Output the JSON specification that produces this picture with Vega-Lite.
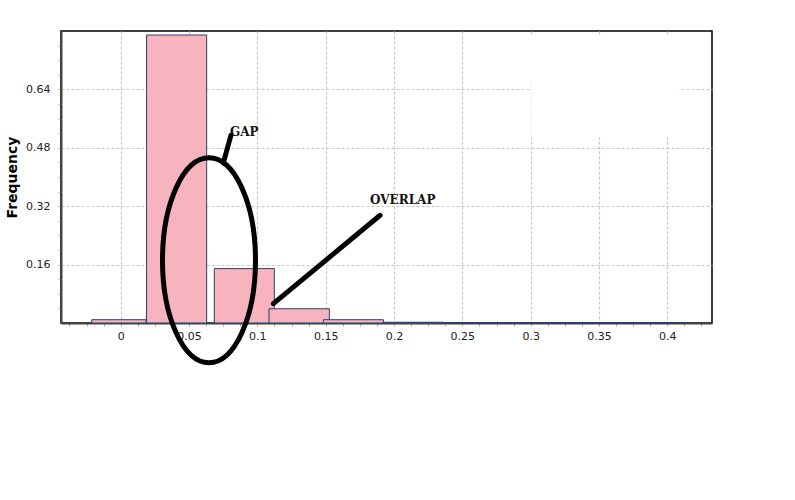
{
  "$schema": "https://vega.github.io/schema/vega-lite/v6.json",
  "autosize": "none",
  "width": 651,
  "height": 292,
  "padding": {"left": 61, "top": 31, "right": 83, "bottom": 177},
  "background": "white",
  "config": {
    "view": {"stroke": "#000", "strokeWidth": 1.5},
    "axis": {
      "labelFont": "DejaVu Sans",
      "labelFontSize": 11,
      "labelColor": "#222",
      "domainColor": "#444",
      "domainWidth": 2,
      "tickColor": "#aaa",
      "tickSize": 3,
      "tickWidth": 1,
      "gridColor": "#c8c8c8",
      "gridDash": [3, 2],
      "gridWidth": 1.2
    }
  },
  "encoding": {
    "x": {
      "field": "x",
      "type": "quantitative",
      "scale": {"domain": [-0.0437, 0.4327], "nice": false, "zero": false},
      "axis": {
        "title": null,
        "values": [-0.0375, -0.025, -0.0125, 0, 0.0125, 0.025, 0.0375, 0.05, 0.0625, 0.075, 0.0875, 0.1, 0.1125, 0.125, 0.1375, 0.15, 0.1625, 0.175, 0.1875, 0.2, 0.2125, 0.225, 0.2375, 0.25, 0.2625, 0.275, 0.2875, 0.3, 0.3125, 0.325, 0.3375, 0.35, 0.3625, 0.375, 0.3875, 0.4, 0.4125, 0.425],
        "labelExpr": "abs(datum.value*20 - round(datum.value*20)) < 0.000001 ? toString(round(datum.value*100)/100) : ''",
        "labelPadding": 4,
        "labelFlush": false,
        "labelOverlap": false,
        "grid": true,
        "gridOpacity": {"condition": {"test": "abs(datum.value*20 - round(datum.value*20)) < 0.000001", "value": 1}, "value": 0}
      }
    },
    "y": {
      "field": "y",
      "type": "quantitative",
      "scale": {"domain": [0, 0.8], "nice": false, "zero": true},
      "axis": {
        "title": "Frequency",
        "titleFont": "DejaVu Sans",
        "titleFontSize": 14,
        "titleFontWeight": "bold",
        "titleColor": "#000",
        "titlePadding": 6,
        "values": [0.04, 0.08, 0.12, 0.16, 0.2, 0.24, 0.28, 0.32, 0.36, 0.4, 0.44, 0.48, 0.52, 0.56, 0.6, 0.64, 0.68, 0.72, 0.76],
        "labelExpr": "abs(datum.value/0.16 - round(datum.value/0.16)) < 0.000001 ? toString(round(datum.value*100)/100) : ''",
        "labelPadding": 8,
        "labelOverlap": false,
        "grid": true,
        "gridOpacity": {"condition": {"test": "abs(datum.value/0.16 - round(datum.value/0.16)) < 0.000001", "value": 1}, "value": 0}
      }
    }
  },
  "layer": [
    {
      "data": {"values": [
        {"x": 0.2992, "x2": 0.409, "y": 0.667, "y2": 0.786},
        {"x": 0.3005, "x2": 0.409, "y": 0.509, "y2": 0.786}
      ]},
      "mark": {"type": "rect", "fill": "white", "stroke": null},
      "encoding": {"x2": {"field": "x2"}, "y2": {"field": "y2"}}
    },
    {
      "data": {"values": [
        {"x": -0.0212, "x2": 0.0185, "y": 0.009},
        {"x": 0.0189, "x2": 0.0629, "y": 0.789},
        {"x": 0.0685, "x2": 0.1124, "y": 0.149},
        {"x": 0.1085, "x2": 0.1527, "y": 0.039},
        {"x": 0.1483, "x2": 0.1922, "y": 0.009},
        {"x": 0.1922, "x2": 0.2364, "y": 0.002},
        {"x": 0.2364, "x2": 0.2806, "y": 0.001},
        {"x": 0.2806, "x2": 0.3248, "y": 0.001},
        {"x": 0.3248, "x2": 0.369, "y": 0.001},
        {"x": 0.369, "x2": 0.4132, "y": 0.001}
      ]},
      "mark": {"type": "rect", "fill": "#f7b4be", "stroke": "#26406b", "strokeWidth": 1},
      "encoding": {"x2": {"field": "x2"}, "y2": {"datum": 0}}
    },
    {
      "data": {"values": [
        {"x": 0.0751, "y": 0.4386, "x2": 0.0807, "y2": 0.5145},
        {"x": 0.1117, "y": 0.0529, "x2": 0.1898, "y2": 0.2951}
      ]},
      "mark": {"type": "rule", "color": "#000", "strokeWidth": 5, "strokeCap": "round"},
      "encoding": {"x2": {"field": "x2"}, "y2": {"field": "y2"}}
    },
    {
      "data": {"values": [{"x": 0.0646, "y": 0.1717}]},
      "mark": {
        "type": "point",
        "shape": "M0.4537,0C0.4537,0.5523,0.2506,1,0,1C-0.2506,1,-0.4537,0.5523,-0.4537,0C-0.4537,-0.5523,-0.2506,-1,0,-1C0.2506,-1,0.4537,-0.5523,0.4537,0Z",
        "size": 42025,
        "filled": false,
        "stroke": "#000",
        "strokeWidth": 5,
        "opacity": 1
      }
    },
    {
      "data": {"values": [
        {"x": 0.08, "y": 0.5118, "label": "GAP"},
        {"x": 0.1824, "y": 0.3253, "label": "OVERLAP"}
      ]},
      "mark": {"type": "text", "align": "left", "baseline": "alphabetic", "font": "DejaVu Serif", "fontSize": 12, "fontWeight": "bold", "color": "#111"},
      "encoding": {"text": {"field": "label"}}
    }
  ]
}
